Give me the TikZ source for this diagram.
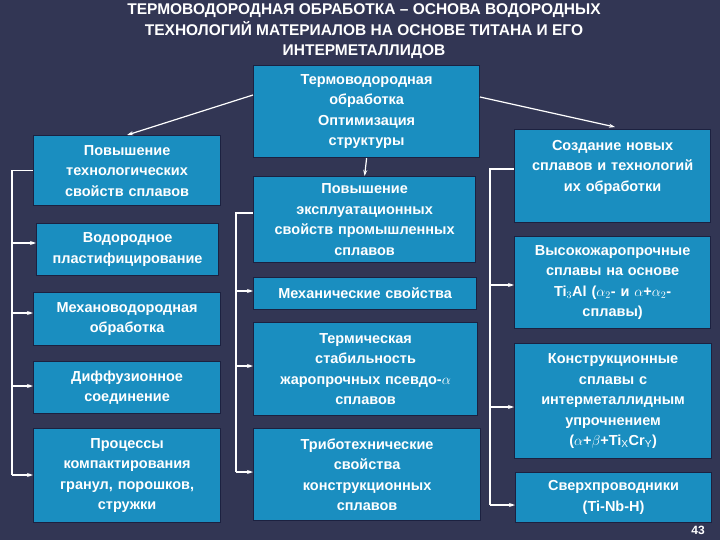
\documentclass[tikz,border=0pt]{standalone}
\usepackage{fontspec}
\setmainfont{Liberation Sans}
\usetikzlibrary{arrows.meta}
\definecolor{bg}{HTML}{323654}
\definecolor{boxc}{HTML}{1A8EC0}
\definecolor{edgec}{HTML}{1C2140}
\tikzset{
 bx/.style={draw=edgec,line width=1.2pt,fill=boxc,text=white,align=center,inner sep=2pt,
   font=\bfseries\fontsize{14.5}{20.5}\selectfont,anchor=north west},
 ln/.style={white,line width=1.2pt},
 ar/.style={white,line width=1.2pt,-{Stealth[length=6pt,width=4pt]}}
}
\newcommand{\bxx}[6]{\node[bx,minimum width=#3pt-#1pt,minimum height=#4pt-#2pt,text width=#3pt-#1pt-4pt] (#5) at (#1,-#2) {#6};}
\begin{document}
\begin{tikzpicture}[x=1pt,y=1pt]
\fill[bg] (0,0) rectangle (720,-540);
\useasboundingbox (0,0) rectangle (720,-540);
\node[text=white,font=\bfseries\fontsize{15.5}{20.5}\selectfont,align=center] (title) at (364,-31.5)
 {ТЕРМОВОДОРОДНАЯ ОБРАБОТКА – ОСНОВА ВОДОРОДНЫХ\\ТЕХНОЛОГИЙ МАТЕРИАЛОВ НА ОСНОВЕ ТИТАНА И ЕГО\\ИНТЕРМЕТАЛЛИДОВ};
\bxx{253}{65}{479}{157}{top}{Термоводородная\\обработка\\Оптимизация\\структуры}
\bxx{33}{135}{220}{205}{l1}{Повышение\\технологических\\свойств сплавов}
\bxx{36}{223}{218}{275}{l2}{Водородное\\пластифицирование}
\bxx{33}{292}{220}{345}{l3}{Механоводородная\\обработка}
\bxx{33}{361}{220}{413}{l4}{Диффузионное\\соединение}
\bxx{33}{428}{220}{522}{l5}{Процессы\\компактирования\\гранул, порошков,\\стружки}
\bxx{253}{176}{475}{262}{c1}{Повышение\\эксплуатационных\\свойств промышленных\\сплавов}
\bxx{253}{277}{476}{309}{c2}{Механические свойства}
\bxx{253}{322}{477}{415}{c3}{Термическая\\стабильность\\жаропрочных псевдо-$\alpha$\\сплавов}
\bxx{253}{428}{480}{520}{c4}{Триботехнические\\свойства\\конструкционных\\сплавов}
\bxx{514}{129}{710}{222}{r1}{Создание новых\\сплавов и технологий\\их обработки\\\mbox{}}
\bxx{514}{236}{710}{328}{r2}{Высокожаропрочные\\сплавы на основе\\Ti$_3$Al ($\alpha_2$- и $\alpha$+$\alpha_2$-\\сплавы)}
\bxx{514}{343}{711}{458}{r3}{Конструкционные\\сплавы с\\интерметаллидным\\упрочнением\\($\alpha$+$\beta$+Ti$_\mathrm{X}$Cr$_\mathrm{Y}$)}
\bxx{515}{472}{711}{522}{r4}{Сверхпроводники\\(Ti-Nb-H)}
\coordinate (tl) at (253,-95); \coordinate (tr) at (480,-97);
\draw[ar] (tl) -- (l1.north);
\draw[ar] (tr) -- (615,-127);
\draw[ar] (top.south) -- (c1.north);
\draw[ln] (l1.west) -| (12,-475);
\foreach \n/\y in {l2/243,l3/313,l4/386,l5/475} \draw[ar] (12,-\y) -- (\n.west |- 0,-\y);
\draw[ln] (c1.west |- 0,-213) -- (236,-213) -- (236,-472);
\foreach \n/\y in {c2/291,c3/366,c4/472} \draw[ar] (236,-\y) -- (\n.west |- 0,-\y);
\draw[ln] (r1.west |- 0,-169) -- (490,-169) -- (490,-505);
\foreach \n/\y in {r2/285,r3/407,r4/505} \draw[ar] (490,-\y) -- (\n.west |- 0,-\y);
\node[text=white,font=\bfseries\fontsize{12}{12}\selectfont] (pg) at (698,-530) {43};
\end{tikzpicture}
\end{document}
